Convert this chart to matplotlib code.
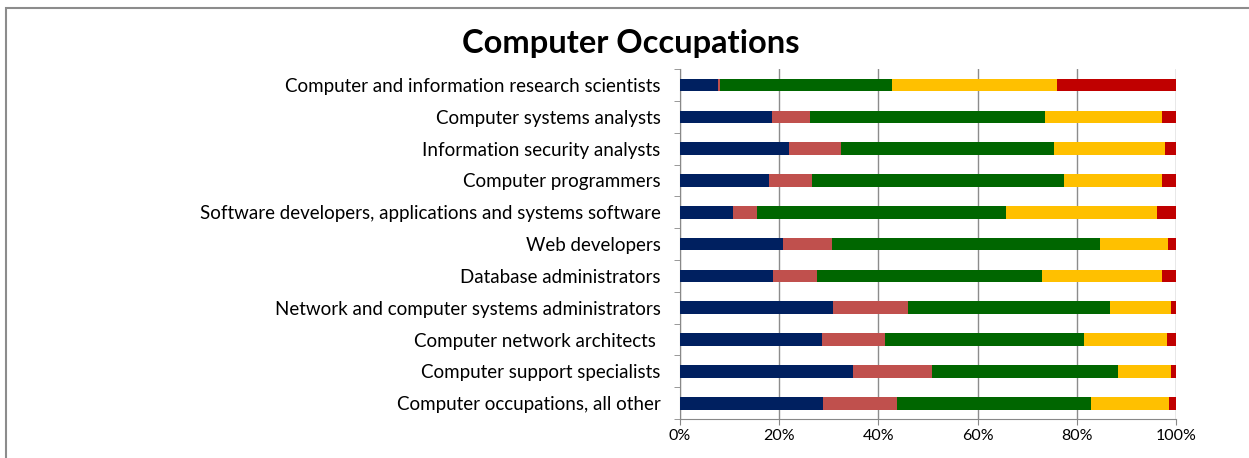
import matplotlib
matplotlib.use('Agg')
from matplotlib import pyplot as plt
from matplotlib.patches import Rectangle
from matplotlib.ticker import FixedLocator, PercentFormatter
import numpy as np

occupations = [
    'Computer and information research scientists',
    'Computer systems analysts',
    'Information security analysts',
    'Computer programmers',
    'Software developers, applications and systems software',
    'Web developers',
    'Database administrators',
    'Network and computer systems administrators',
    'Computer network architects ',
    'Computer support specialists',
    'Computer occupations, all other',
]

# shares (%) for each of the five stacked segments
seg1 = [7.7, 18.5, 22.0, 17.9, 10.7, 20.8, 18.8, 30.9, 28.6, 34.9, 28.9]
seg2 = [0.4, 7.7, 10.4, 8.8, 4.8, 9.8, 8.8, 15.1, 12.7, 15.9, 14.8]
seg3 = [34.7, 47.5, 43.0, 50.8, 50.2, 54.1, 45.3, 40.8, 40.1, 37.6, 39.2]
seg4 = [33.3, 23.4, 22.4, 19.7, 30.4, 13.8, 24.2, 12.2, 16.8, 10.6, 15.7]
seg5 = [23.9, 2.9, 2.2, 2.8, 3.9, 1.5, 2.9, 1.0, 1.8, 1.0, 1.4]

colors = ['#002060', '#C0504D', '#006600', '#FFC000', '#C00000']

fig = plt.figure(figsize=(12.49, 4.58), dpi=100)
ax = fig.add_axes([0.5444, 0.085, 0.3971, 0.764])

y = np.arange(len(occupations))
left = np.zeros(len(occupations))
for vals, c in zip([seg1, seg2, seg3, seg4, seg5], colors):
    vals = np.array(vals)
    ax.barh(y, vals, left=left, height=0.4, color=c, zorder=3)
    left += vals

ax.set_ylim(len(occupations) - 0.5, -0.5)
ax.set_xlim(0, 100)
ax.set_xticks(np.arange(0, 101, 20))
ax.xaxis.set_major_formatter(PercentFormatter(decimals=0))
ax.set_yticks(y)
ax.set_yticklabels(occupations, fontsize=13.5, family='Lato')
ax.yaxis.set_minor_locator(FixedLocator(np.arange(-0.5, len(occupations), 1)))
ax.tick_params(axis='y', which='major', length=0, pad=14)
ax.tick_params(axis='y', which='minor', length=4, color='#888888')
ax.tick_params(axis='x', length=4, color='#888888', labelsize=11.5)
for lab in ax.get_xticklabels():
    lab.set_family('Lato')

ax.grid(axis='x', color='#8c8c8c', linewidth=1, zorder=0)
for side in ['top', 'right']:
    ax.spines[side].set_visible(False)
for side in ['left', 'bottom']:
    ax.spines[side].set_color('#888888')

fig.text(0.505, 0.905, 'Computer Occupations', ha='center', va='center',
         fontsize=23.5, fontweight='bold', family='Lato')

# chart frame, cut off on the right and at the bottom
fig.patches.append(Rectangle((0.0048, -0.1), 1.2, 1.0825, transform=fig.transFigure,
                             fill=False, edgecolor='#8c8c8c', linewidth=1.5))

plt.savefig('out.png', dpi=100)
